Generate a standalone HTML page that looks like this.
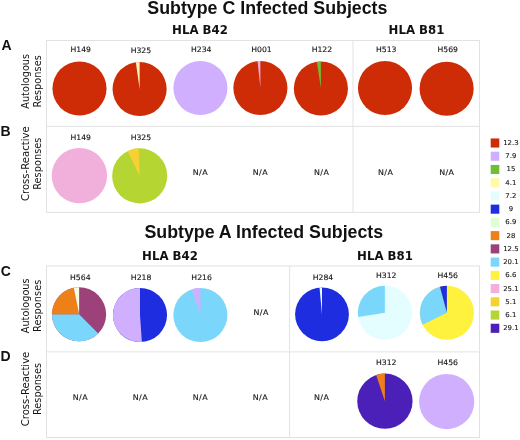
<!DOCTYPE html>
<html><head><meta charset="utf-8"><title>Figure</title>
<style>html,body{margin:0;padding:0;background:#fff}svg{display:block;will-change:transform}</style></head>
<body>
<svg width="520" height="440" viewBox="0 0 520 440">
<rect width="520" height="440" fill="#fff"/>
<text x="267.4" y="13.8" text-anchor="middle" font-size="17.8" fill="#111" style="font-family:'Liberation Sans',Arial,sans-serif;font-weight:bold">Subtype C Infected Subjects</text>
<text x="263.8" y="238.4" text-anchor="middle" font-size="17.8" fill="#111" style="font-family:'Liberation Sans',Arial,sans-serif;font-weight:bold">Subtype A Infected Subjects</text>
<text x="200.0" y="34.2" text-anchor="middle" font-size="11.75" fill="#111" style="font-family:'DejaVu Sans','Liberation Sans',sans-serif;font-weight:bold">HLA B42</text>
<text x="416.5" y="34.2" text-anchor="middle" font-size="11.75" fill="#111" style="font-family:'DejaVu Sans','Liberation Sans',sans-serif;font-weight:bold">HLA B81</text>
<text x="170.0" y="259.8" text-anchor="middle" font-size="11.75" fill="#111" style="font-family:'DejaVu Sans','Liberation Sans',sans-serif;font-weight:bold">HLA B42</text>
<text x="385.0" y="259.8" text-anchor="middle" font-size="11.75" fill="#111" style="font-family:'DejaVu Sans','Liberation Sans',sans-serif;font-weight:bold">HLA B81</text>
<text x="1.4" y="50.3" font-size="14" fill="#111" style="font-family:'Liberation Sans',Arial,sans-serif;font-weight:bold">A</text>
<text x="0.6" y="136.0" font-size="14" fill="#111" style="font-family:'Liberation Sans',Arial,sans-serif;font-weight:bold">B</text>
<text x="0.7" y="276.2" font-size="14" fill="#111" style="font-family:'Liberation Sans',Arial,sans-serif;font-weight:bold">C</text>
<text x="0.4" y="360.8" font-size="14" fill="#111" style="font-family:'Liberation Sans',Arial,sans-serif;font-weight:bold">D</text>
<rect x="46.5" y="40.5" width="433" height="171.9" fill="none" stroke="#e2e2e2"/>
<line x1="46.5" y1="126.4" x2="479.5" y2="126.4" stroke="#e2e2e2" stroke-width="1"/>
<line x1="353.0" y1="40.5" x2="353.0" y2="212.4" stroke="#e2e2e2" stroke-width="1"/>
<rect x="46.5" y="266" width="433" height="171.5" fill="none" stroke="#e2e2e2"/>
<line x1="46.5" y1="351.9" x2="479.5" y2="351.9" stroke="#e2e2e2" stroke-width="1"/>
<line x1="289.6" y1="266" x2="289.6" y2="437.5" stroke="#e2e2e2" stroke-width="1"/>
<text transform="translate(31,81.3) rotate(-90)" text-anchor="middle" font-size="9.8" fill="#141414" style="font-family:'DejaVu Sans','Liberation Sans',sans-serif"><tspan x="0" y="-2.4">Autologous</tspan><tspan x="0" y="9.5">Responses</tspan></text>
<text transform="translate(31,163.7) rotate(-90)" text-anchor="middle" font-size="9.8" fill="#141414" style="font-family:'DejaVu Sans','Liberation Sans',sans-serif"><tspan x="0" y="-2.4" textLength="74.6" lengthAdjust="spacingAndGlyphs">Cross-Reactive</tspan><tspan x="0" y="9.5">Responses</tspan></text>
<text transform="translate(31,305.8) rotate(-90)" text-anchor="middle" font-size="9.8" fill="#141414" style="font-family:'DejaVu Sans','Liberation Sans',sans-serif"><tspan x="0" y="-2.4">Autologous</tspan><tspan x="0" y="9.5">Responses</tspan></text>
<text transform="translate(31,389.0) rotate(-90)" text-anchor="middle" font-size="9.8" fill="#141414" style="font-family:'DejaVu Sans','Liberation Sans',sans-serif"><tspan x="0" y="-2.4" textLength="74.6" lengthAdjust="spacingAndGlyphs">Cross-Reactive</tspan><tspan x="0" y="9.5">Responses</tspan></text>
<circle cx="79.5" cy="88.5" r="27.05" fill="#CE2B07"/>
<text transform="translate(80.7,52) scale(1.03,1)" text-anchor="middle" font-size="7.5" fill="#141414" stroke="#141414" stroke-width="0.12" style="font-family:'DejaVu Sans','Liberation Sans',sans-serif">H149</text>
<circle cx="139.6" cy="89" r="27.05" fill="#CE2B07"/>
<path d="M139.6 89L135.84 62.21A27.05 27.05 0 0 1 139.60 61.95Z" fill="#FFF3B8"/>
<text transform="translate(140.9,53) scale(1.03,1)" text-anchor="middle" font-size="7.5" fill="#141414" stroke="#141414" stroke-width="0.12" style="font-family:'DejaVu Sans','Liberation Sans',sans-serif">H325</text>
<circle cx="200.4" cy="88" r="27.05" fill="#D0B0FE"/>
<text transform="translate(201.2,52) scale(1.03,1)" text-anchor="middle" font-size="7.5" fill="#141414" stroke="#141414" stroke-width="0.12" style="font-family:'DejaVu Sans','Liberation Sans',sans-serif">H234</text>
<circle cx="260.4" cy="88" r="27.05" fill="#CE2B07"/>
<path d="M260.4 88L257.57 61.10A27.05 27.05 0 0 1 260.40 60.95Z" fill="#F1B0DC"/>
<text transform="translate(261.5,52) scale(1.03,1)" text-anchor="middle" font-size="7.5" fill="#141414" stroke="#141414" stroke-width="0.12" style="font-family:'DejaVu Sans','Liberation Sans',sans-serif">H001</text>
<circle cx="320.9" cy="88.5" r="27.05" fill="#CE2B07"/>
<path d="M320.9 88.5L316.90 61.75A27.05 27.05 0 0 1 320.90 61.45Z" fill="#6FBE38"/>
<text transform="translate(321.9,52) scale(1.03,1)" text-anchor="middle" font-size="7.5" fill="#141414" stroke="#141414" stroke-width="0.12" style="font-family:'DejaVu Sans','Liberation Sans',sans-serif">H122</text>
<circle cx="385" cy="88" r="27.05" fill="#CE2B07"/>
<text transform="translate(386.2,52) scale(1.03,1)" text-anchor="middle" font-size="7.5" fill="#141414" stroke="#141414" stroke-width="0.12" style="font-family:'DejaVu Sans','Liberation Sans',sans-serif">H513</text>
<circle cx="446.6" cy="88.7" r="27.05" fill="#CE2B07"/>
<text transform="translate(447.7,52) scale(1.03,1)" text-anchor="middle" font-size="7.5" fill="#141414" stroke="#141414" stroke-width="0.12" style="font-family:'DejaVu Sans','Liberation Sans',sans-serif">H569</text>
<circle cx="79.4" cy="175.6" r="27.7" fill="#F1B0DC"/>
<text transform="translate(80.7,139.6) scale(1.03,1)" text-anchor="middle" font-size="7.5" fill="#141414" stroke="#141414" stroke-width="0.12" style="font-family:'DejaVu Sans','Liberation Sans',sans-serif">H149</text>
<circle cx="139.7" cy="175.9" r="27.55" fill="#B5D632"/>
<path d="M139.7 175.9L127.62 151.14A27.55 27.55 0 0 1 138.74 148.37Z" fill="#F7D033"/>
<text transform="translate(140.9,140) scale(1.03,1)" text-anchor="middle" font-size="7.5" fill="#141414" stroke="#141414" stroke-width="0.12" style="font-family:'DejaVu Sans','Liberation Sans',sans-serif">H325</text>
<text transform="translate(200.39999999999998,174.60000000000002) scale(1.03,1)" text-anchor="middle" font-size="7.7" letter-spacing="0.4" fill="#141414" stroke="#141414" stroke-width="0.12" style="font-family:'DejaVu Sans','Liberation Sans',sans-serif">N/A</text>
<text transform="translate(260.4,174.60000000000002) scale(1.03,1)" text-anchor="middle" font-size="7.7" letter-spacing="0.4" fill="#141414" stroke="#141414" stroke-width="0.12" style="font-family:'DejaVu Sans','Liberation Sans',sans-serif">N/A</text>
<text transform="translate(321.59999999999997,174.60000000000002) scale(1.03,1)" text-anchor="middle" font-size="7.7" letter-spacing="0.4" fill="#141414" stroke="#141414" stroke-width="0.12" style="font-family:'DejaVu Sans','Liberation Sans',sans-serif">N/A</text>
<text transform="translate(385.59999999999997,174.60000000000002) scale(1.03,1)" text-anchor="middle" font-size="7.7" letter-spacing="0.4" fill="#141414" stroke="#141414" stroke-width="0.12" style="font-family:'DejaVu Sans','Liberation Sans',sans-serif">N/A</text>
<text transform="translate(446.8,174.60000000000002) scale(1.03,1)" text-anchor="middle" font-size="7.7" letter-spacing="0.4" fill="#141414" stroke="#141414" stroke-width="0.12" style="font-family:'DejaVu Sans','Liberation Sans',sans-serif">N/A</text>
<circle cx="79.1" cy="314.3" r="27.05" fill="#9C4179"/>
<path d="M79.1 314.3L98.23 333.43A27.05 27.05 0 0 1 52.05 314.30Z" fill="#7AD6FB"/>
<path d="M79.1 314.3L52.05 314.30A27.05 27.05 0 0 1 73.71 287.79Z" fill="#EE8019"/>
<path d="M79.1 314.3L73.71 287.79A27.05 27.05 0 0 1 79.10 287.25Z" fill="#F8FBDF"/>
<text transform="translate(80.3,280) scale(1.03,1)" text-anchor="middle" font-size="7.5" fill="#141414" stroke="#141414" stroke-width="0.12" style="font-family:'DejaVu Sans','Liberation Sans',sans-serif">H564</text>
<circle cx="140" cy="315" r="27.05" fill="#1E2DDF"/>
<path d="M140 315L141.89 341.98A27.05 27.05 0 1 1 140.00 287.95Z" fill="#D0B0FE"/>
<text transform="translate(141.1,279.6) scale(1.03,1)" text-anchor="middle" font-size="7.5" fill="#141414" stroke="#141414" stroke-width="0.12" style="font-family:'DejaVu Sans','Liberation Sans',sans-serif">H218</text>
<circle cx="200.4" cy="315" r="27.05" fill="#7AD6FB"/>
<path d="M200.4 315L191.86 289.33A27.05 27.05 0 0 1 200.40 287.95Z" fill="#D0B0FE"/>
<text transform="translate(201.6,279.6) scale(1.03,1)" text-anchor="middle" font-size="7.5" fill="#141414" stroke="#141414" stroke-width="0.12" style="font-family:'DejaVu Sans','Liberation Sans',sans-serif">H216</text>
<text transform="translate(261.09999999999997,315.40000000000003) scale(1.03,1)" text-anchor="middle" font-size="7.7" letter-spacing="0.4" fill="#141414" stroke="#141414" stroke-width="0.12" style="font-family:'DejaVu Sans','Liberation Sans',sans-serif">N/A</text>
<circle cx="322.0" cy="314.3" r="26.9" fill="#1E2DDF"/>
<path d="M322.0 314.3L319.52 287.52A26.9 26.9 0 0 1 322.00 287.40Z" fill="#E4FDFF"/>
<text transform="translate(323,279.5) scale(1.03,1)" text-anchor="middle" font-size="7.5" fill="#141414" stroke="#141414" stroke-width="0.12" style="font-family:'DejaVu Sans','Liberation Sans',sans-serif">H284</text>
<circle cx="384.9" cy="312.8" r="27.05" fill="#E4FDFF"/>
<path d="M384.9 312.8L358.18 317.03A27.05 27.05 0 0 1 384.90 285.75Z" fill="#7AD6FB"/>
<text transform="translate(386.2,277.5) scale(1.03,1)" text-anchor="middle" font-size="7.5" fill="#141414" stroke="#141414" stroke-width="0.12" style="font-family:'DejaVu Sans','Liberation Sans',sans-serif">H312</text>
<circle cx="446.9" cy="312.8" r="27.05" fill="#FFF23E"/>
<path d="M446.9 312.8L422.59 324.66A27.05 27.05 0 0 1 439.90 286.67Z" fill="#7AD6FB"/>
<path d="M446.9 312.8L439.90 286.67A27.05 27.05 0 0 1 446.90 285.75Z" fill="#1E2DDF"/>
<text transform="translate(447.7,277.5) scale(1.03,1)" text-anchor="middle" font-size="7.5" fill="#141414" stroke="#141414" stroke-width="0.12" style="font-family:'DejaVu Sans','Liberation Sans',sans-serif">H456</text>
<text transform="translate(80.4,400.0) scale(1.03,1)" text-anchor="middle" font-size="7.7" letter-spacing="0.4" fill="#141414" stroke="#141414" stroke-width="0.12" style="font-family:'DejaVu Sans','Liberation Sans',sans-serif">N/A</text>
<text transform="translate(140.39999999999998,400.0) scale(1.03,1)" text-anchor="middle" font-size="7.7" letter-spacing="0.4" fill="#141414" stroke="#141414" stroke-width="0.12" style="font-family:'DejaVu Sans','Liberation Sans',sans-serif">N/A</text>
<text transform="translate(200.39999999999998,400.0) scale(1.03,1)" text-anchor="middle" font-size="7.7" letter-spacing="0.4" fill="#141414" stroke="#141414" stroke-width="0.12" style="font-family:'DejaVu Sans','Liberation Sans',sans-serif">N/A</text>
<text transform="translate(260.4,400.0) scale(1.03,1)" text-anchor="middle" font-size="7.7" letter-spacing="0.4" fill="#141414" stroke="#141414" stroke-width="0.12" style="font-family:'DejaVu Sans','Liberation Sans',sans-serif">N/A</text>
<text transform="translate(321.59999999999997,400.0) scale(1.03,1)" text-anchor="middle" font-size="7.7" letter-spacing="0.4" fill="#141414" stroke="#141414" stroke-width="0.12" style="font-family:'DejaVu Sans','Liberation Sans',sans-serif">N/A</text>
<circle cx="384.9" cy="401.2" r="27.65" fill="#4B20B9"/>
<path d="M384.9 401.2L376.17 374.96A27.65 27.65 0 0 1 384.90 373.55Z" fill="#EE8019"/>
<text transform="translate(386.2,365) scale(1.03,1)" text-anchor="middle" font-size="7.5" fill="#141414" stroke="#141414" stroke-width="0.12" style="font-family:'DejaVu Sans','Liberation Sans',sans-serif">H312</text>
<circle cx="446.7" cy="401.6" r="27.6" fill="#D0B0FE"/>
<text transform="translate(447.7,365) scale(1.03,1)" text-anchor="middle" font-size="7.5" fill="#141414" stroke="#141414" stroke-width="0.12" style="font-family:'DejaVu Sans','Liberation Sans',sans-serif">H456</text>
<rect x="490.7" y="138.45" width="8.6" height="9.1" fill="#CE2B07"/>
<text transform="translate(510.9,145.00) scale(1.04,1)" text-anchor="middle" font-size="6.7" fill="#141414" stroke="#141414" stroke-width="0.1" style="font-family:'DejaVu Sans','Liberation Sans',sans-serif">12.3</text>
<rect x="490.7" y="151.69" width="8.6" height="9.1" fill="#D0B0FE"/>
<text transform="translate(510.9,158.24) scale(1.04,1)" text-anchor="middle" font-size="6.7" fill="#141414" stroke="#141414" stroke-width="0.1" style="font-family:'DejaVu Sans','Liberation Sans',sans-serif">7.9</text>
<rect x="490.7" y="164.92" width="8.6" height="9.1" fill="#6FBE38"/>
<text transform="translate(510.9,171.47) scale(1.04,1)" text-anchor="middle" font-size="6.7" fill="#141414" stroke="#141414" stroke-width="0.1" style="font-family:'DejaVu Sans','Liberation Sans',sans-serif">15</text>
<rect x="490.7" y="178.15" width="8.6" height="9.1" fill="#FFFAA6"/>
<text transform="translate(510.9,184.70) scale(1.04,1)" text-anchor="middle" font-size="6.7" fill="#141414" stroke="#141414" stroke-width="0.1" style="font-family:'DejaVu Sans','Liberation Sans',sans-serif">4.1</text>
<rect x="490.7" y="191.39" width="8.6" height="9.1" fill="#E4FDFF"/>
<text transform="translate(510.9,197.94) scale(1.04,1)" text-anchor="middle" font-size="6.7" fill="#141414" stroke="#141414" stroke-width="0.1" style="font-family:'DejaVu Sans','Liberation Sans',sans-serif">7.2</text>
<rect x="490.7" y="204.62" width="8.6" height="9.1" fill="#1E2DDF"/>
<text transform="translate(510.9,211.18) scale(1.04,1)" text-anchor="middle" font-size="6.7" fill="#141414" stroke="#141414" stroke-width="0.1" style="font-family:'DejaVu Sans','Liberation Sans',sans-serif">9</text>
<rect x="490.7" y="217.86" width="8.6" height="9.1" fill="#DEFFD5"/>
<text transform="translate(510.9,224.41) scale(1.04,1)" text-anchor="middle" font-size="6.7" fill="#141414" stroke="#141414" stroke-width="0.1" style="font-family:'DejaVu Sans','Liberation Sans',sans-serif">6.9</text>
<rect x="490.7" y="231.09" width="8.6" height="9.1" fill="#EE8019"/>
<text transform="translate(510.9,237.64) scale(1.04,1)" text-anchor="middle" font-size="6.7" fill="#141414" stroke="#141414" stroke-width="0.1" style="font-family:'DejaVu Sans','Liberation Sans',sans-serif">28</text>
<rect x="490.7" y="244.33" width="8.6" height="9.1" fill="#9C4179"/>
<text transform="translate(510.9,250.88) scale(1.04,1)" text-anchor="middle" font-size="6.7" fill="#141414" stroke="#141414" stroke-width="0.1" style="font-family:'DejaVu Sans','Liberation Sans',sans-serif">12.5</text>
<rect x="490.7" y="257.56" width="8.6" height="9.1" fill="#7AD6FB"/>
<text transform="translate(510.9,264.12) scale(1.04,1)" text-anchor="middle" font-size="6.7" fill="#141414" stroke="#141414" stroke-width="0.1" style="font-family:'DejaVu Sans','Liberation Sans',sans-serif">20.1</text>
<rect x="490.7" y="270.80" width="8.6" height="9.1" fill="#FFF23E"/>
<text transform="translate(510.9,277.35) scale(1.04,1)" text-anchor="middle" font-size="6.7" fill="#141414" stroke="#141414" stroke-width="0.1" style="font-family:'DejaVu Sans','Liberation Sans',sans-serif">6.6</text>
<rect x="490.7" y="284.03" width="8.6" height="9.1" fill="#F1B0DC"/>
<text transform="translate(510.9,290.58) scale(1.04,1)" text-anchor="middle" font-size="6.7" fill="#141414" stroke="#141414" stroke-width="0.1" style="font-family:'DejaVu Sans','Liberation Sans',sans-serif">25.1</text>
<rect x="490.7" y="297.27" width="8.6" height="9.1" fill="#F7D033"/>
<text transform="translate(510.9,303.82) scale(1.04,1)" text-anchor="middle" font-size="6.7" fill="#141414" stroke="#141414" stroke-width="0.1" style="font-family:'DejaVu Sans','Liberation Sans',sans-serif">5.1</text>
<rect x="490.7" y="310.50" width="8.6" height="9.1" fill="#B5D632"/>
<text transform="translate(510.9,317.06) scale(1.04,1)" text-anchor="middle" font-size="6.7" fill="#141414" stroke="#141414" stroke-width="0.1" style="font-family:'DejaVu Sans','Liberation Sans',sans-serif">6.1</text>
<rect x="490.7" y="323.74" width="8.6" height="9.1" fill="#4B20B9"/>
<text transform="translate(510.9,330.29) scale(1.04,1)" text-anchor="middle" font-size="6.7" fill="#141414" stroke="#141414" stroke-width="0.1" style="font-family:'DejaVu Sans','Liberation Sans',sans-serif">29.1</text>
</svg>
</body></html>
